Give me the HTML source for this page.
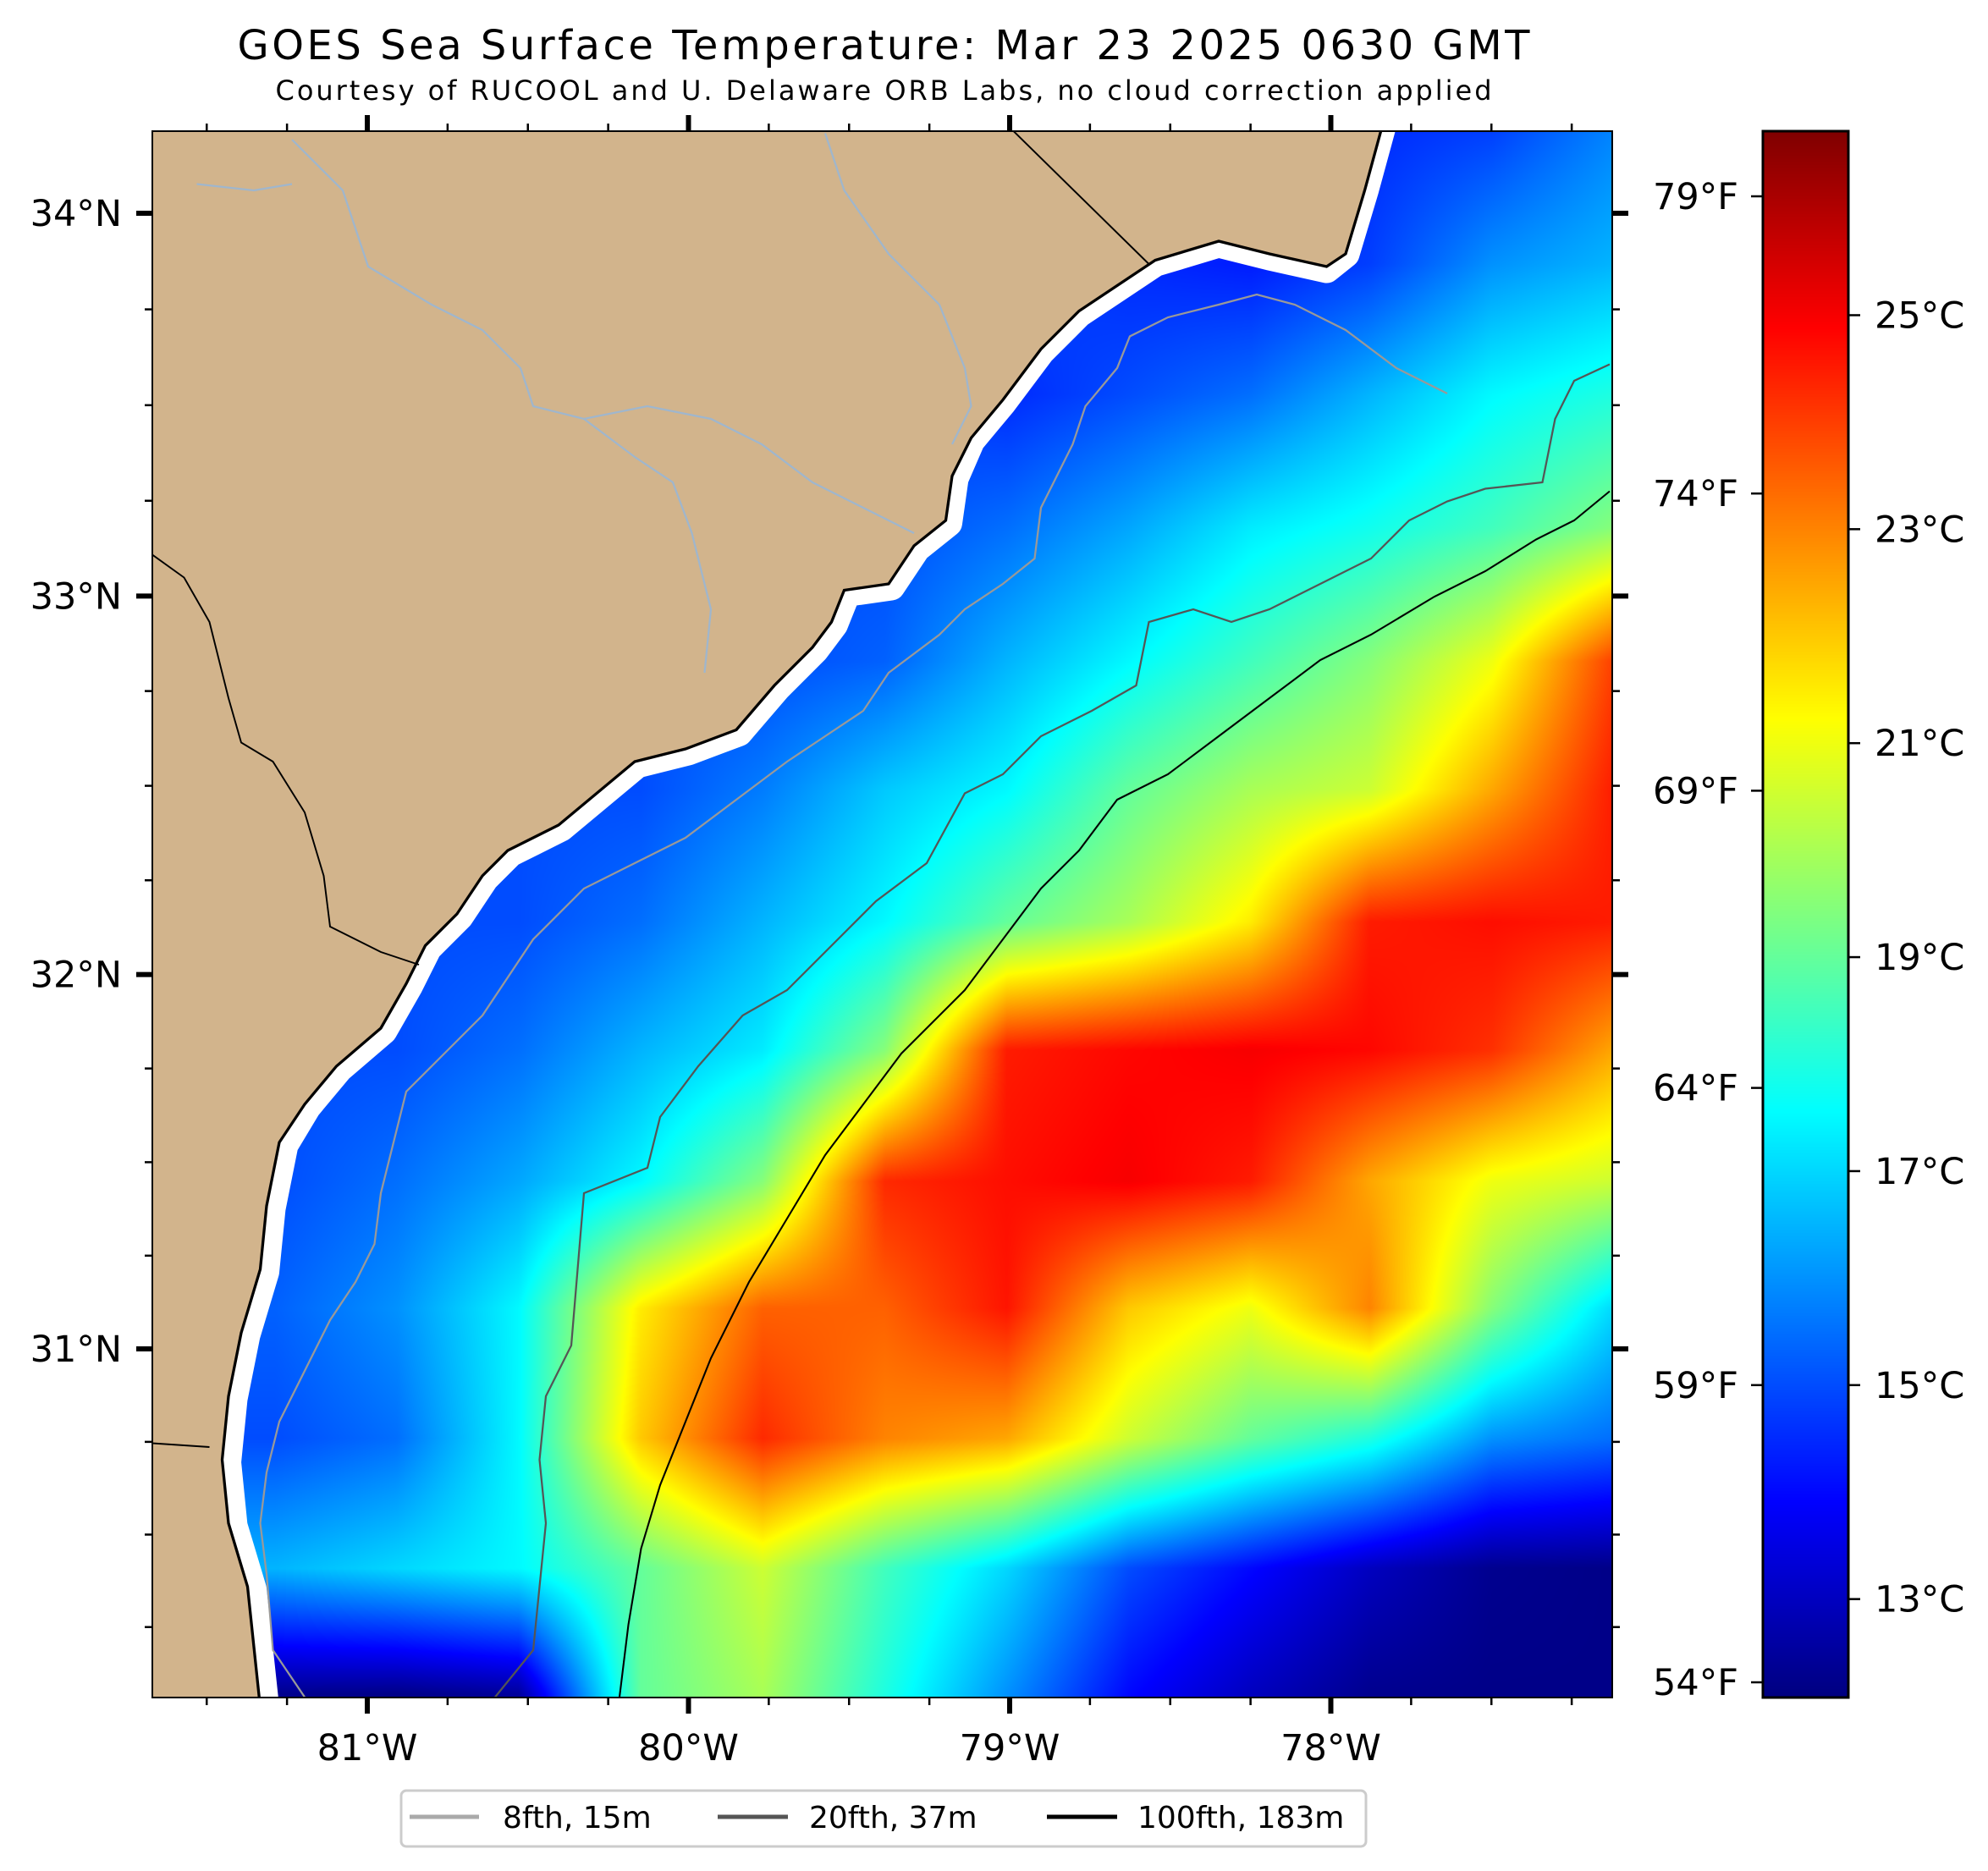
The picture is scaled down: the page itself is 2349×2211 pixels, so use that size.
<!DOCTYPE html>
<html><head><meta charset="utf-8">
<style>
html,body{margin:0;padding:0;background:#fff;}
#wrap{position:relative;width:2349px;height:2211px;overflow:hidden;font-family:"DejaVu Sans","Liberation Sans",sans-serif;}
canvas{position:absolute;}
svg{position:absolute;left:0;top:0;}
</style></head>
<body>
<div id="wrap">
<canvas id="map" width="1725" height="1851" style="left:180px;top:155px"></canvas>
<canvas id="cbar" width="101" height="1851" style="left:2083px;top:155px"></canvas>
<svg id="ov" width="2349" height="2211">
<defs><clipPath id="mclip"><rect x="120" y="103" width="1150" height="1234"/></clipPath></defs>
<text x="1044" y="70" font-size="48" text-anchor="middle" textLength="1527">GOES Sea Surface Temperature: Mar 23 2025 0630 GMT</text>
<text x="1044" y="118" font-size="32" text-anchor="middle" textLength="1437">Courtesy of RUCOOL and U. Delaware ORB Labs, no cloud correction applied</text>
<g transform="scale(1.5)" clip-path="url(#mclip)">
<polyline fill="none" stroke="#fff" stroke-width="22" stroke-linejoin="round" points="1090,95 1075,150 1060,200 1045,212 1000,202 960,192 910,207 880,227 850,247 820,277 790,317 765,347 752,377 747,412 722,432 702,462 667,467 657,492 642,512 612,542 582,577 542,592 502,602 472,627 442,652 402,672 382,692 362,722 337,747 322,777 302,812 267,842 242,872 224,902 214,952 209,1002 194,1052 184,1102 179,1152 184,1202 199,1252 209,1345"/>
<polygon fill="#d2b48c" stroke="#000" stroke-width="2.2" points="1090,95 1075,150 1060,200 1045,210 1000,200 960,190 910,205 880,225 850,245 820,275 790,315 765,345 750,375 745,410 720,430 700,460 665,465 655,490 640,510 610,540 580,575 540,590 500,600 470,625 440,650 400,670 380,690 360,720 335,745 320,775 300,810 265,840 240,870 220,900 210,950 205,1000 190,1050 180,1100 175,1150 180,1200 195,1250 205,1345 110,1345 110,95"/>
<polyline fill="none" stroke="#000" stroke-width="1.3" points="120,437 145,455 165,490 180,550 190,585 215,600 240,640 255,690 260,730 300,750 330,760"/>
<polyline fill="none" stroke="#000" stroke-width="1.3" points="795,100 905,208"/>
<polyline fill="none" stroke="#000" stroke-width="1.3" points="120,1137 165,1140"/>
<polyline fill="none" stroke="#9fb6cd" stroke-width="1.5" points="230,110 270,150 290,210 340,240 380,260 410,290 420,320 460,330 510,320 560,330 600,350 640,380 680,400 720,420"/>
<polyline fill="none" stroke="#9fb6cd" stroke-width="1.5" points="650,105 665,150 700,200 740,240 760,290 765,320 750,350"/>
<polyline fill="none" stroke="#9fb6cd" stroke-width="1.5" points="460,330 500,360 530,380 545,420 560,480 555,530"/>
<polyline fill="none" stroke="#9fb6cd" stroke-width="1.5" points="155,145 200,150 230,145"/>
<polyline fill="none" stroke="#999" stroke-width="1.5" points="1140,310 1100,290 1060,260 1020,240 990,232 960,240 920,250 890,265 880,290 855,320 845,350 830,380 820,400 815,440 790,460 760,480 740,500 700,530 680,560 650,580 620,600 580,630 540,660 500,680 460,700 420,740 400,770 380,800 350,830 320,860 310,900 300,940 295,980 280,1010 260,1040 240,1080 220,1120 210,1160 205,1200 210,1240 215,1300 240,1337"/>
<polyline fill="none" stroke="#555" stroke-width="1.5" points="1268,287 1240,300 1225,330 1215,380 1170,385 1140,395 1110,410 1080,440 1040,460 1000,480 970,490 940,480 905,490 895,540 860,560 820,580 790,610 760,625 730,680 690,710 660,740 620,780 585,800 550,840 520,880 510,920 460,940 455,1000 450,1060 430,1100 425,1150 430,1200 425,1250 420,1300 390,1337"/>
<polyline fill="none" stroke="#000" stroke-width="1.4" points="1268,387 1240,410 1210,425 1170,450 1130,470 1080,500 1040,520 1000,550 960,580 920,610 880,630 850,670 820,700 790,740 760,780 740,800 710,830 680,870 650,910 620,960 590,1010 560,1070 540,1120 520,1170 505,1220 495,1280 488,1337"/>
</g>
<rect x="180" y="155" width="1725" height="1851" fill="none" stroke="#000" stroke-width="2"/>
<rect x="2083" y="155" width="101" height="1851" fill="none" stroke="#000" stroke-width="3"/>
<g id="ticks"></g>
<g>
<rect x="474" y="2116" width="1140" height="66" rx="6" fill="#fff" stroke="#ccc" stroke-width="3"/>
<line x1="484" y1="2147" x2="566" y2="2147" stroke="#aaa" stroke-width="5"/>
<text x="594" y="2160" font-size="36">8fth, 15m</text>
<line x1="848" y1="2147" x2="931" y2="2147" stroke="#555" stroke-width="5"/>
<text x="956" y="2160" font-size="36">20fth, 37m</text>
<line x1="1237" y1="2147" x2="1320" y2="2147" stroke="#000" stroke-width="5"/>
<text x="1344" y="2160" font-size="36">100fth, 183m</text>
</g>
</svg>
</div>
<script>
// ---- data ----
const gridLons = [-81.67,-81.29,-80.91,-80.53,-80.15,-79.77,-79.39,-79.01,-78.63,-78.25,-77.88,-77.50,-77.12];
const gridLats = [34.22,33.87,33.53,33.18,32.83,32.49,32.14,31.80,31.45,31.11,30.76,30.41,30.07];
const sstRow0  = [15,15,15,15,15,15,15,15,15,15,14.5,14.8,15.8];
const sstRow1  = [15,15,15,15,15,15,15,15,14.5,14.3,14.8,16,16.5];
const sstRow2  = [15,15,15,15,15,15,15,14.5,15,15.5,16.5,17.5,18];
const sstRow3  = [15,15,15,15,15,15,15,15.5,16.3,17.3,17.8,18.5,19.5];
const sstRow4  = [15,15,15,15,15,15,15.3,16.5,17.5,18.5,19.5,21,24];
const sstRow5  = [15,15,15,15,15,15.7,16.8,17.5,19,20,20.5,22.5,24.5];
const sstRow6  = [15,15,15,15,15.5,16.5,17.5,19,20,21.5,24.5,24.7,24.5];
const sstRow7  = [15,15,15,15.5,16.5,17.3,19.5,24.5,24.8,25,24.8,24.2,22.5];
const sstRow8  = [15,15,15.5,16.3,17.5,19.5,24.3,24.7,25,24.5,22.5,21,20.5];
const sstRow9  = [15.3,15.3,16,17.5,21.5,23.5,23.5,24.6,22,21,23,19.5,17];
const sstRow10 = [15,15,15.5,17.5,22,24.3,23,22.5,20.5,19,18,16,15.5];
const sstRow11 = [16.5,16.5,17,17.5,19,20.5,18.5,17,15,14,13,12.3,12.2];
const sstRow12 = [12.3,12.3,12.2,12.5,19,20,18,16,14,13,12.3,12.2,12.2];
const sstRows = [sstRow0,sstRow1,sstRow2,sstRow3,sstRow4,sstRow5,sstRow6,sstRow7,sstRow8,sstRow9,sstRow10,sstRow11,sstRow12];
const lonTicks = [-81,-80,-79,-78];
const lonLabels = ["81°W","80°W","79°W","78°W"];
const latTicks = [34,33,32,31];
const latLabels = ["34°N","33°N","32°N","31°N"];
const cTicks = [13,15,17,19,21,23,25];
const fTicks = [54,59,64,69,74,79];
const cMin = 12.08, cMax = 26.72;

// ---- axes ----
const merc = l => Math.log(Math.tan(Math.PI/4 + l*Math.PI/360));
const mk = (1594-252)/(merc(34)-merc(31));
function xOfLon(lon){ return 434 + (lon+81)*379.5; }
function yOfLat(lat){ return 252 + (merc(34)-merc(lat))*mk; }
function lonOfX(x){ return -81 + (x-434)/379.5; }
function latOfY(y){ const m = merc(34)-(y-252)/mk; return (2*Math.atan(Math.exp(m))-Math.PI/2)*180/Math.PI; }
function yOfTemp(t){ return 2006 - (t-cMin)/(cMax-cMin)*1851; }
function jet(v){
  let t=(v-cMin)/(cMax-cMin); t=Math.max(0,Math.min(1,t));
  const c=x=>Math.max(0,Math.min(1,x));
  return [c(1.5-Math.abs(4*t-3))*255, c(1.5-Math.abs(4*t-2))*255, c(1.5-Math.abs(4*t-1))*255];
}
function locate(arr,v){
  const asc = arr[1]>arr[0];
  for(let i=0;i<arr.length-1;i++){
    const a=arr[i],b=arr[i+1];
    if(asc ? v<=b : v>=b) return [i,Math.max(0,Math.min(1,(v-a)/(b-a)))];
  }
  return [arr.length-2,1];
}
// ---- heatmap ----
(function(){
  const cv=document.getElementById('map'),ctx=cv.getContext('2d');
  const W=cv.width,H=cv.height,img=ctx.createImageData(W,H),d=img.data;
  const colInfo=[];for(let x=0;x<W;x++)colInfo.push(locate(gridLons,lonOfX(x+180)));
  for(let y=0;y<H;y++){
    const [j,fy]=locate(gridLats,latOfY(y+155));
    const r0=sstRows[j],r1=sstRows[j+1];
    for(let x=0;x<W;x++){
      const [i,fx]=colInfo[x];
      const v=(r0[i]*(1-fx)+r0[i+1]*fx)*(1-fy)+(r1[i]*(1-fx)+r1[i+1]*fx)*fy;
      const c=jet(v),k=(y*W+x)*4;
      d[k]=c[0];d[k+1]=c[1];d[k+2]=c[2];d[k+3]=255;
    }
  }
  ctx.putImageData(img,0,0);
  const cb=document.getElementById('cbar'),cx=cb.getContext('2d');
  for(let y=0;y<cb.height;y++){
    const c=jet(cMax-(y/cb.height)*(cMax-cMin));
    cx.fillStyle='rgb('+c.map(Math.round).join(',')+')';cx.fillRect(0,y,cb.width,1);
  }
})();
// ---- ticks ----
(function(){
  const g=document.getElementById('ticks'),NS='http://www.w3.org/2000/svg';
  function line(x1,y1,x2,y2,w,name){
    const l=document.createElementNS(NS,'line');
    l.setAttribute('x1',x1);l.setAttribute('y1',y1);l.setAttribute('x2',x2);l.setAttribute('y2',y2);
    l.setAttribute('stroke','#000');l.setAttribute('stroke-width',w);
    
    
    g.appendChild(l);
  }
  function text(x,y,s,anchor,name){
    const t=document.createElementNS(NS,'text');
    t.setAttribute('x',x);t.setAttribute('y',y);t.setAttribute('font-size','43');t.setAttribute('text-anchor',anchor);
    t.textContent=s;
    
    
    g.appendChild(t);
  }
  for(let lon=-81.5;lon<=-77.2;lon+=0.25){
    const x=xOfLon(lon),major=Math.abs(lon-Math.round(lon))<1e-6;
    const L=major?19:9,w=major?6:2.5;
    line(x,2006,x,2006+L,w,'x-tick');line(x,155,x,155-L,w,'x-tick-top');
  }
  for(let lat=30.25;lat<=34.2;lat+=0.25){
    const y=yOfLat(lat),major=Math.abs(lat-Math.round(lat))<1e-6;
    const L=major?19:9,w=major?6:2.5;
    line(180,y,180-L,y,w,'y-tick');line(1905,y,1905+L,y,w,'y-tick-right');
  }
  lonTicks.forEach((v,i)=>text(xOfLon(v),2080,lonLabels[i],'middle','x-tick-label'));
  latTicks.forEach((v,i)=>text(144,yOfLat(v)+15,latLabels[i],'end','y-tick-label'));
  cTicks.forEach(v=>{const y=yOfTemp(v);line(2184,y,2198,y,2.5,'colorbar-c-tick');text(2215,y+15,v+'°C','start','colorbar-c-label');});
  fTicks.forEach(v=>{const y=yOfTemp((v-32)*5/9);line(2083,y,2069,y,2.5,'colorbar-f-tick');text(2054,y+15,v+'°F','end','colorbar-f-label');});
})();
</script>
</body></html>
